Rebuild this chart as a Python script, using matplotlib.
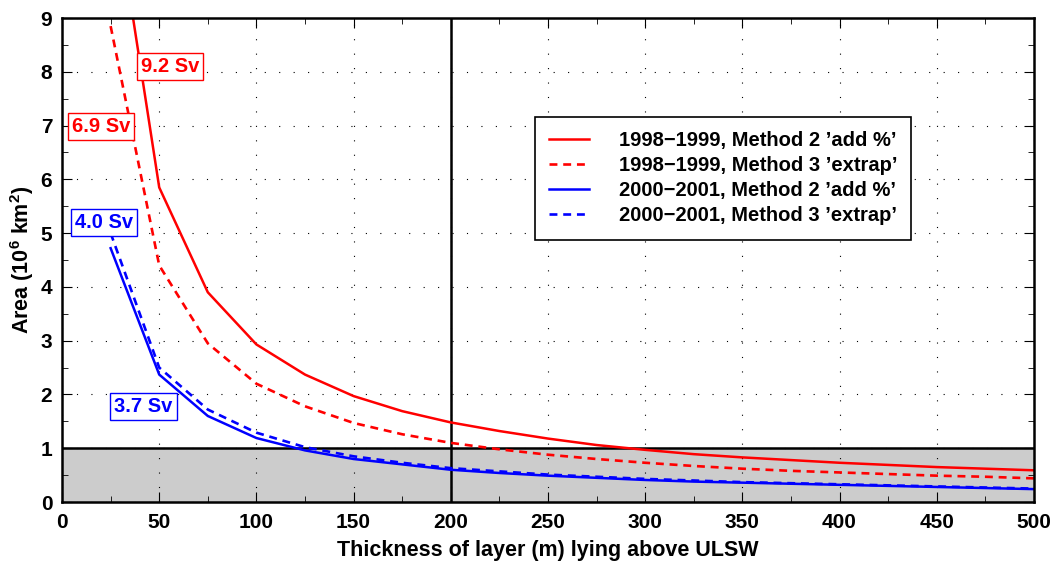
import matplotlib.pyplot as plt
from matplotlib.ticker import MultipleLocator

plt.rcParams["font.family"] = ["Liberation Sans", "DejaVu Sans"]
plt.rcParams["font.weight"] = "bold"
plt.rcParams["mathtext.fontset"] = "custom"
plt.rcParams["mathtext.bf"] = "Liberation Sans:bold"
plt.rcParams["mathtext.rm"] = "Liberation Sans:bold"

# thickness of layer (m)
thickness = [25, 50, 75, 100, 125, 150, 175, 200, 225, 250, 275, 300,
             325, 350, 375, 400, 425, 450, 475, 500]

# area (10^6 km^2)
area_98_m2 = [11.7, 5.85, 3.9, 2.93, 2.37, 1.97, 1.69, 1.48, 1.32, 1.18,
              1.06, 0.97, 0.89, 0.83, 0.78, 0.73, 0.69, 0.65, 0.62, 0.59]
area_98_m3 = [8.85, 4.4, 2.95, 2.2, 1.78, 1.47, 1.26, 1.1, 0.98, 0.88,
              0.8, 0.73, 0.67, 0.62, 0.58, 0.55, 0.52, 0.49, 0.47, 0.44]
area_00_m2 = [4.72, 2.37, 1.6, 1.19, 0.96, 0.8, 0.7, 0.6, 0.54, 0.49,
              0.45, 0.41, 0.38, 0.36, 0.34, 0.32, 0.3, 0.28, 0.26, 0.24]
area_00_m3 = [5.0, 2.5, 1.72, 1.29, 1.02, 0.85, 0.73, 0.63, 0.57, 0.51,
              0.47, 0.43, 0.4, 0.37, 0.35, 0.33, 0.31, 0.29, 0.27, 0.25]

labels = ["1998\u22121999, Method 2 \u2019add %\u2019",
          "1998\u22121999, Method 3 \u2019extrap\u2019",
          "2000\u22122001, Method 2 \u2019add %\u2019",
          "2000\u22122001, Method 3 \u2019extrap\u2019"]

# transport annotations: text, x, y, colour
sv_text = ["9.2 Sv", "6.9 Sv", "4.0 Sv", "3.7 Sv"]
sv_x = [55.5, 20, 21.5, 42]
sv_y = [8.09, 6.99, 5.19, 1.77]
sv_col = ["red", "red", "blue", "blue"]

fig = plt.figure(figsize=(10.55, 5.67), dpi=100)
ax = fig.add_axes([0.0588, 0.1146, 0.9212, 0.8536])

ax.axhspan(0, 1, color="#cccccc", zorder=0)
ax.axhline(1, color="black", lw=1.8, zorder=1)
ax.axvline(200, color="black", lw=1.8, zorder=1)

dash = (0, (3, 2.2))
ax.plot(thickness, area_98_m2, color="red", lw=1.8, label=labels[0])
ax.plot(thickness, area_98_m3, color="red", lw=1.9, ls=dash, label=labels[1])
ax.plot(thickness, area_00_m2, color="blue", lw=1.8, label=labels[2])
ax.plot(thickness, area_00_m3, color="blue", lw=1.9, ls=dash, label=labels[3])

for t, x, y, c in zip(sv_text, sv_x, sv_y, sv_col):
    ax.text(x, y, t, color=c, fontsize=14.5, fontweight="bold", ha="center", va="center",
            bbox=dict(boxstyle="square,pad=0.2", fc="white", ec=c, lw=1))

ax.set_xlim(0, 500)
ax.set_ylim(0, 9)
ax.xaxis.set_major_locator(MultipleLocator(50))
ax.xaxis.set_minor_locator(MultipleLocator(25))
ax.yaxis.set_major_locator(MultipleLocator(1))
ax.yaxis.set_minor_locator(MultipleLocator(0.5))
ax.tick_params(which="both", direction="in", top=True, right=True, labelsize=15)
ax.tick_params(which="major", length=7)
ax.tick_params(which="minor", length=4)
ax.tick_params(axis="x", pad=8)
ax.tick_params(axis="y", pad=7)
ax.grid(True, which="major", color="black", ls=(0, (1, 12)), lw=0.8)
for s in ax.spines.values():
    s.set_linewidth(1.8)

ax.set_xlabel("Thickness of layer (m) lying above ULSW", fontsize=15.5,
              fontweight="bold", labelpad=6)
ax.set_ylabel(r"Area (10$^\mathbf{6}$ km$^\mathbf{2}$)", fontsize=15.5,
              fontweight="bold", labelpad=3)

leg = ax.legend(loc="upper left", bbox_to_anchor=(0.4866, 0.795), fontsize=14.5,
                fancybox=False, edgecolor="black", framealpha=1,
                handlelength=2.0, handletextpad=1.45, labelspacing=0.3,
                borderpad=0.7, borderaxespad=0)
leg.get_frame().set_linewidth(1.2)

fig.savefig("out.png", dpi=100)
